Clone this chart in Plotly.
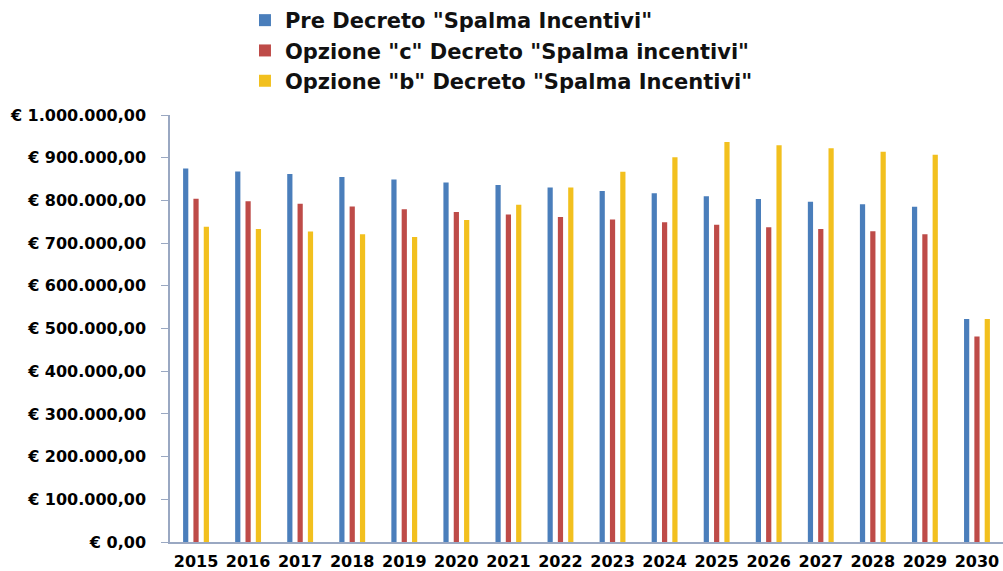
import plotly.graph_objects as go

anni = ["2015", "2016", "2017", "2018", "2019", "2020", "2021", "2022",
        "2023", "2024", "2025", "2026", "2027", "2028", "2029", "2030"]

pre_decreto = [874500, 867600, 861600, 855000, 849000, 842000, 836000, 830000,
               822000, 817000, 810000, 803000, 797000, 791000, 785000, 522000]
opzione_c = [804000, 798000, 792000, 786000, 779000, 773000, 767000, 761000,
             755000, 749000, 743000, 737000, 733000, 728000, 721000, 481000]
opzione_b = [738000, 733000, 727000, 721000, 714000, 754000, 790000, 830000,
             867000, 901000, 937000, 929000, 922000, 914000, 907000, 522000]

serie = [
    ('Pre Decreto "Spalma Incentivi"', pre_decreto, "#4A7EBB"),
    ('Opzione "c" Decreto "Spalma incentivi"', opzione_c, "#BE4B48"),
    ('Opzione "b" Decreto "Spalma Incentivi"', opzione_b, "#F2C01E"),
]

fig = go.Figure()
for nome, valori, colore in serie:
    fig.add_trace(go.Bar(
        x=anni, y=valori, name=nome,
        marker=dict(color=colore, line=dict(width=0)),
    ))

axis_col = "#9AA8C2"
fig.update_layout(
    width=1003, height=571,
    margin=dict(l=170, r=0, t=115, b=24),
    paper_bgcolor="white", plot_bgcolor="white",
    barmode="group", bargap=0.405, bargroupgap=0.495,
    separators=",.",
    showlegend=True,
    legend=dict(
        x=0.09, xref="paper", xanchor="left",
        y=1.005, yref="container", yanchor="top",
        orientation="v",
        font=dict(family="DejaVu Sans", size=21, color="#111111", weight="bold"),
        bgcolor="rgba(0,0,0,0)",
        itemwidth=30,
        tracegroupgap=0,
    ),
    xaxis=dict(
        type="category",
        showline=True, linecolor=axis_col, linewidth=1.5,
        ticks="", showgrid=False, zeroline=False,
        tickfont=dict(family="DejaVu Sans", size=16, color="#000000", weight="bold"),
        ticklabelstandoff=4,
    ),
    yaxis=dict(
        range=[0, 1000000], dtick=100000, tick0=0,
        tickprefix="€ ", tickformat=",.2f",
        showline=True, linecolor=axis_col, linewidth=1.5,
        ticks="outside", ticklen=7, tickcolor=axis_col, tickwidth=1.2,
        showgrid=False, zeroline=False,
        tickfont=dict(family="DejaVu Sans", size=16, color="#000000", weight="bold"),
        ticklabelstandoff=12,
    ),
)

fig.write_html("out.html")
